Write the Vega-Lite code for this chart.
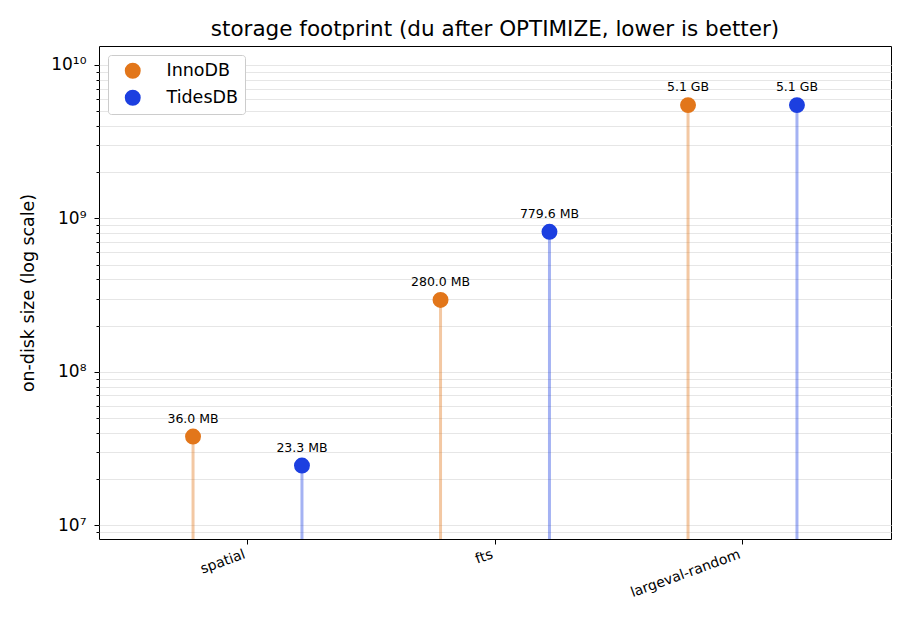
{
  "$schema": "https://vega.github.io/schema/vega-lite/v6.json",
  "width": 792,
  "height": 493,
  "autosize": {"type": "none"},
  "padding": {"left": 99, "top": 46, "right": 19, "bottom": 85},
  "title": {"text": "storage footprint (du after OPTIMIZE, lower is better)", "font": "DejaVu Sans", "fontSize": 21.5, "fontWeight": "normal", "color": "black", "offset": 6, "anchor": "middle"},
  "config": {
    "font": "DejaVu Sans",
    "view": {"stroke": "black", "strokeWidth": 1},
    "axis": {"domain": false, "tickColor": "black", "labelColor": "black", "titleColor": "black", "labelFont": "DejaVu Sans", "titleFont": "DejaVu Sans", "titleFontWeight": "normal"},
    "legend": {"title": null, "orient": "none", "legendX": 9, "legendY": 9, "strokeColor": "#cccccc", "fillColor": "white", "cornerRadius": 3, "padding": 7, "labelFontSize": 17.5, "labelFont": "DejaVu Sans", "labelColor": "black", "symbolSize": 254, "symbolType": "circle", "symbolOpacity": 1, "symbolStrokeWidth": 0, "symbolOffset": 9, "rowPadding": 8, "labelOffset": 25}
  },
  "data": {"values": [
    {"workload": "spatial", "engine": "InnoDB", "bytes": 37748736, "label": "36.0 MB"},
    {"workload": "spatial", "engine": "TidesDB", "bytes": 24431411, "label": "23.3 MB"},
    {"workload": "fts", "engine": "InnoDB", "bytes": 293601280, "label": "280.0 MB"},
    {"workload": "fts", "engine": "TidesDB", "bytes": 817468211, "label": "779.6 MB"},
    {"workload": "largeval-random", "engine": "InnoDB", "bytes": 5476083302, "label": "5.1 GB"},
    {"workload": "largeval-random", "engine": "TidesDB", "bytes": 5476083302, "label": "5.1 GB"}
  ]},
  "encoding": {
    "x": {"field": "workload", "type": "nominal", "sort": ["spatial", "fts", "largeval-random"], "scale": {"paddingInner": 0, "paddingOuter": 0.1},
      "axis": {"title": null, "labelAngle": -20, "labelAlign": "right", "labelBaseline": "top", "labelFontSize": 14, "tickSize": 5, "labelPadding": 3, "labelOffset": -5, "grid": false}},
    "xOffset": {"field": "engine", "type": "nominal", "scale": {"domain": ["InnoDB", "TidesDB"], "paddingInner": 0, "paddingOuter": 0.136}}
  },
  "layer": [
    {
      "mark": {"type": "rule", "strokeWidth": 3, "opacity": 0.4},
      "encoding": {
        "y": {"field": "bytes", "type": "quantitative", "scale": {"type": "log", "domain": [8110000, 13300000000], "nice": false},
          "axis": {"orient": "left", "values": [9000000, 20000000, 30000000, 40000000, 50000000, 60000000, 70000000, 80000000, 90000000, 200000000, 300000000, 400000000, 500000000, 600000000, 700000000, 800000000, 900000000, 2000000000, 3000000000, 4000000000, 5000000000, 6000000000, 7000000000, 8000000000, 9000000000], "labels": false, "tickSize": 3, "grid": true, "gridColor": "#e6e6e6", "gridWidth": 1, "title": null}},
        "y2": {"datum": 8110000},
        "stroke": {"field": "engine", "type": "nominal", "scale": {"domain": ["InnoDB", "TidesDB"], "range": ["#e2761a", "#1c3fe0"]}}
      }
    },
    {
      "mark": {"type": "point", "filled": true, "opacity": 1, "size": 254},
      "encoding": {
        "y": {"field": "bytes", "type": "quantitative",
          "axis": {"orient": "left", "values": [10000000, 100000000, 1000000000, 10000000000], "labelExpr": "datum.value == 1e7 ? '10⁷' : datum.value == 1e8 ? '10⁸' : datum.value == 1e9 ? '10⁹' : '10¹⁰'", "labelFontSize": 17, "tickSize": 5, "labelPadding": 8, "grid": true, "gridColor": "#e6e6e6", "title": "on-disk size (log scale)", "titleFontSize": 17.4, "titlePadding": 13}},
        "color": {"field": "engine", "type": "nominal", "scale": {"domain": ["InnoDB", "TidesDB"], "range": ["#e2761a", "#1c3fe0"]}}
      }
    },
    {
      "mark": {"type": "text", "fontSize": 12.5, "dy": -18, "baseline": "middle", "color": "black"},
      "encoding": {
        "y": {"field": "bytes", "type": "quantitative", "axis": null},
        "text": {"field": "label"}
      }
    }
  ],
  "resolve": {"axis": {"y": "independent"}}
}
